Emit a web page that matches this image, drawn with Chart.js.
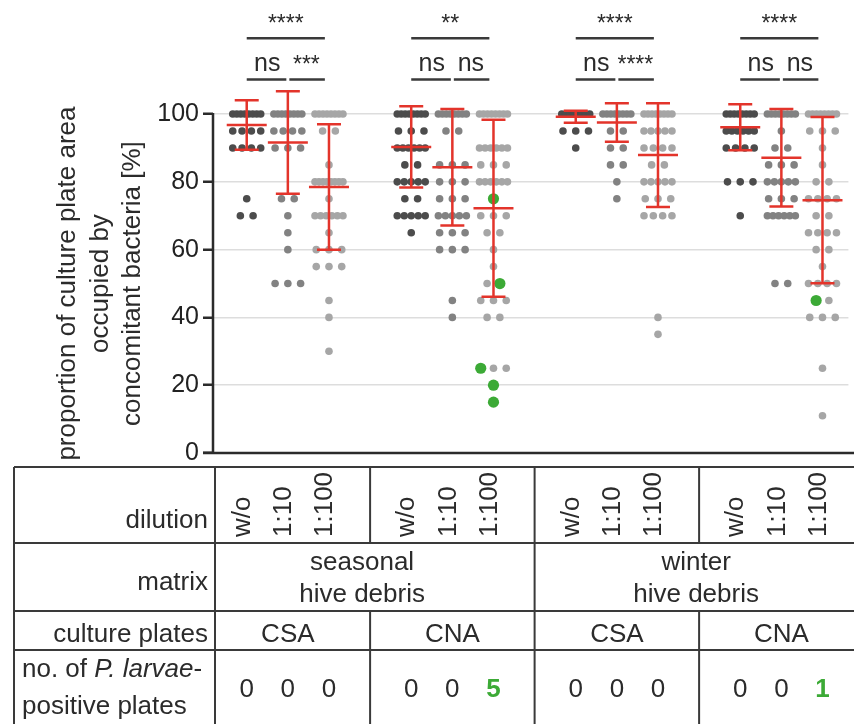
<!DOCTYPE html>
<html>
<head>
<meta charset="utf-8">
<script src="https://cdn.jsdelivr.net/npm/chart.js@4.4.1/dist/chart.umd.min.js"></script>
<style>
  html, body { margin: 0; padding: 0; background: #fff; }
  #wrap { width: 854px; height: 724px; }
</style>
</head>
<body>
<div id="wrap"><canvas id="chart"></canvas></div>
<script>
// plates per value [% area, count], one entry per dilution (w/o, 1:10, 1:100)
const seasonalCSA = [
  [[100, 8], [95, 4], [90, 4], [75, 1], [70, 2]],
  [[100, 8], [95, 4], [90, 3], [75, 2], [70, 1], [65, 1], [60, 1], [50, 3]],
  [[100, 8], [95, 2], [85, 1], [80, 8], [75, 1], [70, 6], [65, 1], [60, 3], [55, 3], [45, 1], [40, 1], [30, 1]]
];
const seasonalCNA = [
  [[100, 8], [95, 3], [90, 6], [85, 2], [80, 5], [75, 2], [70, 5], [65, 1]],
  [[100, 8], [95, 2], [85, 3], [80, 3], [75, 3], [70, 5], [65, 3], [60, 3], [45, 1], [40, 1]],
  [[100, 8], [90, 6], [85, 3], [80, 6], [75, 1], [70, 3], [65, 2], [60, 1], [55, 1], [50, 2], [45, 3], [40, 2], [25, 3], [20, 1], [15, 1]]
];
const winterCSA = [
  [[100, 8], [95, 3], [90, 1]],
  [[100, 8], [95, 2], [90, 2], [85, 2], [80, 1], [75, 1]],
  [[100, 8], [95, 5], [90, 4], [85, 2], [80, 5], [75, 3], [70, 4], [40, 1], [35, 1]]
];
const winterCNA = [
  [[100, 8], [95, 6], [90, 4], [80, 3], [70, 1]],
  [[100, 8], [95, 1], [90, 2], [85, 3], [80, 5], [75, 3], [70, 6], [50, 2]],
  [[100, 8], [95, 3], [90, 1], [85, 1], [80, 2], [75, 4], [70, 2], [65, 4], [60, 2], [55, 1], [50, 4], [45, 2], [40, 3], [25, 1], [11, 1]]
];

// P. larvae positive plates: [value, position in its row]
const positiveSpots = [[], [], [], [], [], [[75, 0], [50, 1], [25, 0], [20, 0], [15, 0]], [], [], [], [], [], [[45, 0]]];

// mean and SD per column
const means = [96.8, 91.6, 78.5, 90.3, 84.3, 72.2, 99.2, 97.5, 87.9, 96.1, 87.1, 74.6];
const sds = [7.3, 15.1, 18.5, 12.0, 17.2, 26.1, 1.8, 5.7, 15.3, 6.8, 14.4, 24.5];

const columnX = [1, 2, 3, 5, 6, 7, 9, 10, 11, 13, 14, 15];
const yTicks = [0, 20, 40, 60, 80, 100];

const sigOuter = ['****', '**', '****', '****'];
const sigLeft = ['ns', 'ns', 'ns', 'ns'];
const sigRight = ['***', 'ns', '****', 'ns'];

const dilutions = ['w/o', '1:10', '1:100'];
const matrices = [['seasonal', 'hive debris'], ['winter', 'hive debris']];
const plates = ['CSA', 'CNA', 'CSA', 'CNA'];
const positives = [0, 0, 0, 0, 0, 5, 0, 0, 0, 0, 0, 1];

const FONT = '"Liberation Sans", Arial, sans-serif';
const dotColors = ['#4c4c4c', '#828282', '#a6a6a6'];
const GREEN = '#3caa36';
const RED = '#e3342b';
const INK = '#2b2b2b';

// spread plates with equal value side by side
const stepMax = 0.31;
const spreadMax = 0.68;
const columns = [seasonalCSA, seasonalCNA, winterCSA, winterCNA].flat();
const greenPoints = [];
const datasets = columns.map((col, ci) => {
  const pts = [];
  col.forEach(([v, n]) => {
    const step = n > 1 ? Math.min(stepMax, spreadMax / (n - 1)) : 0;
    for (let k = 0; k < n; k++) {
      const p = { x: columnX[ci] + (k - (n - 1) / 2) * step, y: v };
      const pos = positiveSpots[ci].some(([pv, slot]) => pv === v && slot === k);
      (pos ? greenPoints : pts).push(p);
    }
  });
  return {
    data: pts,
    backgroundColor: dotColors[ci % 3],
    pointRadius: 3.8,
    pointBorderWidth: 0,
    clip: false
  };
});
datasets.unshift({
  data: greenPoints,
  backgroundColor: GREEN,
  pointRadius: 5.6,
  pointBorderWidth: 0,
  clip: false
});

const extras = {
  id: 'extras',
  beforeDatasetsDraw(chart) {
    const { ctx, scales: { x, y } } = chart;
    const left = chart.chartArea.left;
    ctx.save();
    ctx.strokeStyle = INK;
    ctx.lineWidth = 2.5;
    ctx.beginPath();
    ctx.moveTo(left, y.getPixelForValue(100) - 1);
    ctx.lineTo(left, y.getPixelForValue(0));
    ctx.moveTo(left - 10, y.getPixelForValue(0));
    ctx.lineTo(chart.width, y.getPixelForValue(0));
    ctx.stroke();
    ctx.restore();
  },
  afterDatasetsDraw(chart) {
    const { ctx, scales: { x, y } } = chart;
    // mean +- SD
    ctx.save();
    ctx.strokeStyle = RED;
    ctx.lineWidth = 2.5;
    columnX.forEach((cx, i) => {
      const px = x.getPixelForValue(cx);
      const top = y.getPixelForValue(means[i] + sds[i]);
      const bot = y.getPixelForValue(means[i] - sds[i]);
      const mid = y.getPixelForValue(means[i]);
      ctx.beginPath();
      ctx.moveTo(px, top); ctx.lineTo(px, bot);
      ctx.moveTo(px - 12, top); ctx.lineTo(px + 12, top);
      ctx.moveTo(px - 12, bot); ctx.lineTo(px + 12, bot);
      ctx.moveTo(px - 20, mid); ctx.lineTo(px + 20, mid);
      ctx.stroke();
    });
    ctx.restore();
  },
  afterDraw(chart) {
    const { ctx, scales: { x, y } } = chart;
    const W = chart.width;
    ctx.save();

    // significance brackets
    const yOuter = y.getPixelForValue(122.4);
    const yInner = y.getPixelForValue(110.2);
    ctx.strokeStyle = '#3a3a3a';
    ctx.fillStyle = INK;
    ctx.lineWidth = 2.5;
    ctx.textAlign = 'center';
    ctx.textBaseline = 'alphabetic';
    const label = (txt, cx, lineY) => {
      ctx.font = (txt === 'ns' ? '25px ' : '23px ') + FONT;
      ctx.fillText(txt, cx, txt === 'ns' ? lineY - 8 : lineY - 7);
    };
    for (let g = 0; g < 4; g++) {
      const c1 = columnX[g * 3], c2 = columnX[g * 3 + 1], c3 = columnX[g * 3 + 2];
      const a = x.getPixelForValue(c1), b = x.getPixelForValue(c2), c = x.getPixelForValue(c3 - 0.1);
      ctx.beginPath();
      ctx.moveTo(a, yOuter); ctx.lineTo(c, yOuter);
      ctx.moveTo(a, yInner); ctx.lineTo(b - 1.5, yInner);
      ctx.moveTo(b + 1.5, yInner); ctx.lineTo(c, yInner);
      ctx.stroke();
      label(sigOuter[g], (a + c) / 2, yOuter);
      label(sigLeft[g], (a + b) / 2, yInner);
      label(sigRight[g], (b + c) / 2, yInner);
    }

    // y axis title
    const yMid = y.getPixelForValue(50);
    ctx.font = '26px ' + FONT;
    ctx.fillStyle = INK;
    ['proportion of culture plate area', 'occupied by', 'concomitant bacteria [%]'].forEach((t, i) => {
      ctx.save();
      ctx.translate(75 + i * 32.5, yMid);
      ctx.rotate(-Math.PI / 2);
      ctx.textAlign = 'center';
      ctx.fillText(t, 0, 0);
      ctx.restore();
    });

    // table under the plot
    const L = 14, head = chart.chartArea.left + 2;
    const r0 = 467, r1 = 543, r2 = 611, r3 = 650, r4 = 724;
    const div = [4, 8, 12].map(v => x.getPixelForValue(v));
    ctx.strokeStyle = '#3a3a3a';
    ctx.lineWidth = 2;
    ctx.beginPath();
    [r0, r1, r2, r3].forEach(r => { ctx.moveTo(L, r); ctx.lineTo(W, r); });
    ctx.moveTo(L, r0); ctx.lineTo(L, r4);
    ctx.moveTo(head, r0); ctx.lineTo(head, r4);
    ctx.moveTo(div[1], r0); ctx.lineTo(div[1], r4);
    [div[0], div[2]].forEach(d => {
      ctx.moveTo(d, r0); ctx.lineTo(d, r1);
      ctx.moveTo(d, r2); ctx.lineTo(d, r4);
    });
    ctx.stroke();

    ctx.font = '26px ' + FONT;
    ctx.fillStyle = INK;
    ctx.textAlign = 'right';
    ctx.fillText('dilution', head - 7, 528);
    ctx.fillText('matrix', head - 7, 590);
    ctx.fillText('culture plates', head - 7, 642);

    columnX.forEach((cx, i) => {
      ctx.save();
      ctx.translate(x.getPixelForValue(cx) - 4, 537);
      ctx.rotate(-Math.PI / 2);
      ctx.textAlign = 'left';
      ctx.textBaseline = 'middle';
      ctx.fillText(dilutions[i % 3], 0, 0);
      ctx.restore();
    });

    ctx.textAlign = 'center';
    matrices.forEach((m, i) => {
      const cx = x.getPixelForValue(4 + i * 8) - (i === 0 ? 8 : 3);
      ctx.fillText(m[0], cx, 570);
      ctx.fillText(m[1], cx, 602);
    });
    plates.forEach((p, i) => {
      ctx.fillText(p, x.getPixelForValue(columnX[i * 3 + 1]), 642);
    });

    // last row label with italic species name
    ctx.textAlign = 'left';
    let tx = 22;
    [['no. of ', ''], ['P. larvae', 'italic '], ['-', '']].forEach(([t, st]) => {
      ctx.font = st + '26px ' + FONT;
      ctx.fillText(t, tx, 677);
      tx += ctx.measureText(t).width;
    });
    ctx.font = '26px ' + FONT;
    ctx.fillText('positive plates', 22, 714);

    ctx.textAlign = 'center';
    positives.forEach((n, i) => {
      ctx.font = (n > 0 ? 'bold ' : '') + '26px ' + FONT;
      ctx.fillStyle = n > 0 ? GREEN : INK;
      ctx.fillText(String(n), x.getPixelForValue(columnX[i]), 697);
    });
    ctx.restore();
  }
};

new Chart(document.getElementById('chart'), {
  type: 'scatter',
  data: { datasets },
  options: {
    responsive: true,
    maintainAspectRatio: false,
    animation: false,
    events: [],
    layout: { padding: { top: 0, right: 0, bottom: 271, left: 0 } },
    plugins: { legend: { display: false }, tooltip: { enabled: false } },
    scales: {
      x: { type: 'linear', min: 0.18, max: 15.63, display: false },
      y: {
        min: 0,
        max: 132,
        afterBuildTicks: s => { s.ticks = yTicks.map(v => ({ value: v })); },
        afterFit: s => { s.width = 213; s.paddingTop = 0; s.paddingBottom = 0; },
        border: { display: false },
        grid: {
          color: c => c.tick.value === 0 ? 'rgba(0,0,0,0)' : '#dddddd',
          lineWidth: 1.5,
          tickColor: INK,
          tickLength: 10,
          tickWidth: 2.5
        },
        ticks: { color: '#222', font: { size: 25, family: FONT }, padding: 4 }
      }
    }
  },
  plugins: [extras]
});
</script>
</body>
</html>
